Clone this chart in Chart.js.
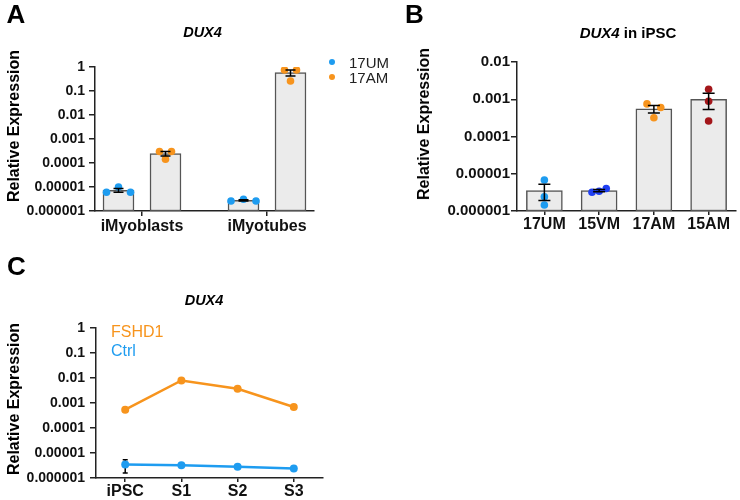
<!DOCTYPE html>
<html>
<head>
<meta charset="utf-8">
<script src="https://cdn.jsdelivr.net/npm/chart.js@4.4.1/dist/chart.umd.min.js"></script>
<style>
  body { margin: 0; background: #fff; font-family: "Liberation Sans", Arial, sans-serif; }
  #page { position: relative; width: 740px; height: 500px; overflow: hidden; }
  canvas { position: absolute; }
  .txt { position: absolute; line-height: 1; white-space: nowrap; transform: translate(-50%, -50%); font-weight: bold; color: #000; }
  .letter { font-size: 26px; }
  .title { font-size: 14.5px; }
  .ytitle { font-size: 16px; transform: translate(-50%, -50%) rotate(-90deg); }
  .leg { position: absolute; line-height: 1; white-space: nowrap; transform: translateY(-50%); }
  .dot { position: absolute; width: 6px; height: 6px; border-radius: 50%; transform: translate(-50%, -50%); }
</style>
</head>
<body>
<div id="page">
  <canvas id="chartA" width="370" height="250" style="left:0;top:0"></canvas>
  <canvas id="chartB" width="360" height="250" style="left:380px;top:0"></canvas>
  <canvas id="chartC" width="370" height="250" style="left:0;top:250px"></canvas>

  <div class="txt letter" style="left:16px;top:13.5px">A</div>
  <div class="txt letter" style="left:414.5px;top:13.5px">B</div>
  <div class="txt letter" style="left:16.5px;top:265.5px">C</div>

  <div class="txt title" style="left:202.5px;top:31.5px"><i>DUX4</i></div>
  <div class="txt title" style="left:628px;top:32px;font-size:15px"><i>DUX4</i> in iPSC</div>
  <div class="txt title" style="left:204px;top:300px"><i>DUX4</i></div>

  <div class="txt ytitle" style="left:14px;top:126px">Relative Expression</div>
  <div class="txt ytitle" style="left:423.5px;top:124px">Relative Expression</div>
  <div class="txt ytitle" style="left:14px;top:399px">Relative Expression</div>

  <div class="dot" style="left:331.7px;top:62px;background:#1e9cf0"></div>
  <div class="leg" style="left:349px;top:62px;font-size:15px;color:#222">17UM</div>
  <div class="dot" style="left:331.7px;top:77px;background:#f7941d"></div>
  <div class="leg" style="left:349px;top:77px;font-size:15px;color:#222">17AM</div>

  <div class="leg" style="left:111px;top:331.7px;font-size:16px;color:#f7941d">FSHD1</div>
  <div class="leg" style="left:111px;top:351px;font-size:16px;color:#1e9cf0">Ctrl</div>
</div>

<script>
// ---- data ----
const groupsA = ['iMyoblasts', 'iMyotubes'];
const um17A = [[6.0e-6, 1.0e-5, 6.0e-6], [2.6e-6, 3.1e-6, 2.6e-6]];
const am17A = [[3.0e-4, 1.45e-4, 3.0e-4], [0.75, 0.26, 0.75]];

const groupsB = ['17UM', '15VM', '17AM', '15AM'];
const repsB = [
  [6.8e-6, 2.4e-6, 1.45e-6],
  [3.2e-6, 3.4e-6, 4.0e-6],
  [7.5e-4, 3.2e-4, 6.0e-4],
  [1.85e-3, 8.8e-4, 2.6e-4]
];

const stagesC = ['iPSC', 'S1', 'S2', 'S3'];
const fshd1C = [5.4e-4, 8.0e-3, 3.7e-3, 6.9e-4];
const ctrlC = [3.5e-6, 3.2e-6, 2.8e-6, 2.4e-6];
const ctrlSemC = [1.9e-6, 0, 0, 0];

const yTicks6 = [1e-6, 1e-5, 1e-4, 1e-3, 1e-2, 1e-1, 1];
const yLabels6 = ['0.000001', '0.00001', '0.0001', '0.001', '0.01', '0.1', '1'];
const yTicks4 = [1e-6, 1e-5, 1e-4, 1e-3, 1e-2];
const yLabels4 = ['0.000001', '0.00001', '0.0001', '0.001', '0.01'];

// ---- style ----
const BLUE = '#1e9cf0';
const ORANGE = '#f7941d';
const ROYAL = '#1f3ff2';
const MAROON = '#a3161a';
const AXIS = '#222';
const FONT = '"Liberation Sans", Arial, sans-serif';
const colorsB = [BLUE, ROYAL, ORANGE, MAROON];

const mean = a => a.reduce((s, v) => s + v, 0) / a.length;
const sem = a => {
  const m = mean(a);
  const sd = Math.sqrt(a.reduce((s, v) => s + (v - m) ** 2, 0) / (a.length - 1));
  return sd / Math.sqrt(a.length);
};

function logAxis(ticks, labels, width, tickLen, pad, size) {
  return {
    type: 'logarithmic',
    min: ticks[0],
    max: ticks[ticks.length - 1],
    afterBuildTicks: s => { s.ticks = ticks.map(v => ({ value: v })); },
    afterFit: s => { s.width = width; },
    ticks: {
      autoSkip: false,
      padding: pad,
      color: '#111',
      font: { family: FONT, size: size, weight: 'bold' },
      callback: (v, i) => labels[i]
    },
    grid: { drawOnChartArea: false, drawTicks: true, tickLength: tickLen, color: AXIS, lineWidth: 1.5 },
    border: { display: true, color: AXIS, width: 1.5 }
  };
}

function catAxis(labels, min, max, height, tickLen, pad) {
  return {
    type: 'linear',
    min: min,
    max: max,
    offset: false,
    afterBuildTicks: s => { s.ticks = labels.map((_, i) => ({ value: i })); },
    afterFit: s => { s.height = height; },
    ticks: {
      autoSkip: false,
      maxRotation: 0,
      padding: pad,
      color: '#111',
      font: { family: FONT, size: 16, weight: 'bold', lineHeight: 1 },
      callback: (v, i) => labels[i]
    },
    grid: { offset: false, drawOnChartArea: false, drawTicks: true, tickLength: tickLen, color: AXIS, lineWidth: 1.5 },
    border: { display: true, color: AXIS, width: 1.5 }
  };
}

// draws mean +/- SEM whiskers through the chart's own scales
function errorBars(items, cap, layer) {
  const draw = chart => {
    const { ctx, scales: { x, y } } = chart;
    ctx.save();
    ctx.strokeStyle = '#000';
    ctx.lineWidth = 1.5;
    items.forEach(b => {
      if (!b.err) return;
      const px = x.getPixelForValue(b.x);
      const top = y.getPixelForValue(b.y + b.err);
      const bot = y.getPixelForValue(b.y - b.err);
      ctx.beginPath();
      ctx.moveTo(px, top); ctx.lineTo(px, bot);
      ctx.moveTo(px - cap / 2, top); ctx.lineTo(px + cap / 2, top);
      ctx.moveTo(px - cap / 2, bot); ctx.lineTo(px + cap / 2, bot);
      ctx.stroke();
    });
    ctx.restore();
  };
  return layer === 'before'
    ? { id: 'errBefore', beforeDatasetsDraw: draw }
    : { id: 'errAfter', afterDatasetsDraw: draw };
}

const barStyle = {
  type: 'bar',
  grouped: false,
  backgroundColor: '#ebebeb',
  borderColor: '#555',
  borderWidth: 1.5,
  borderSkipped: false,
  order: 2
};
const dotStyle = color => ({
  type: 'scatter',
  pointRadius: 3.8,
  pointBackgroundColor: color,
  pointBorderWidth: 0,
  order: 1
});

const baseOptions = {
  responsive: false,
  animation: false,
  events: [],
  plugins: { legend: { display: false }, tooltip: { enabled: false } }
};

// ---- Panel A ----
const barOffA = [-0.188, 0.188];
const jitterA = [[[-0.096, 0, 0.096], [-0.1, 0, 0.1]], [[-0.048, 0, 0.048], [-0.048, 0, 0.048]]];
const repsA = [um17A, am17A];
const errA = [];
const dsA = [];
repsA.forEach((series, s) => {
  const bars = series.map((reps, i) => ({ x: i + barOffA[s], y: mean(reps) }));
  series.forEach((reps, i) => errA.push({ x: i + barOffA[s], y: mean(reps), err: sem(reps) }));
  dsA.push({ ...barStyle, barThickness: 31, data: bars });
  dsA.push({
    ...dotStyle(s === 0 ? BLUE : ORANGE),
    data: series.flatMap((reps, i) => reps.map((v, k) => ({ x: i + barOffA[s] + jitterA[s][i][k], y: v })))
  });
});

new Chart(document.getElementById('chartA'), {
  type: 'bar',
  data: { datasets: dsA },
  options: {
    ...baseOptions,
    layout: { padding: { left: 0, top: 67, right: 56, bottom: 0 } },
    scales: {
      x: catAxis(groupsA, -0.376, 1.376, 39, 5, 3),
      y: logAxis(yTicks6, yLabels6, 95, 6, 4, 14)
    }
  },
  plugins: [errorBars(errA, 10, 'after')]
});

// ---- Panel B ----
const jitterB = [[0, 0, 0], [-0.13, 0, 0.13], [-0.126, 0, 0.126], [0, 0, 0]];
const errB = repsB.map((reps, i) => ({ x: i, y: mean(reps), err: sem(reps) }));
const dsB = [{ ...barStyle, barThickness: 36, data: repsB.map((reps, i) => ({ x: i, y: mean(reps) })) }];
repsB.forEach((reps, i) => {
  dsB.push({ ...dotStyle(colorsB[i]), data: reps.map((v, k) => ({ x: i + jitterB[i][k], y: v })) });
});

new Chart(document.getElementById('chartB'), {
  type: 'bar',
  data: { datasets: dsB },
  options: {
    ...baseOptions,
    layout: { padding: { left: 0, top: 62, right: 1, bottom: 0 } },
    scales: {
      x: catAxis(groupsB, -0.5, 3.5, 39, 4, 2),
      y: logAxis(yTicks4, yLabels4, 137, 6, 1, 15)
    }
  },
  plugins: [errorBars(errB, 12, 'after')]
});

// ---- Panel C ----
const lineStyle = color => ({
  borderColor: color,
  borderWidth: 2.5,
  pointRadius: 4,
  pointBackgroundColor: color,
  pointBorderWidth: 0,
  tension: 0
});
const errC = ctrlC.map((v, i) => ({ x: i, y: v, err: ctrlSemC[i] }));

new Chart(document.getElementById('chartC'), {
  type: 'line',
  data: {
    datasets: [
      { ...lineStyle(ORANGE), data: fshd1C.map((v, i) => ({ x: i, y: v })) },
      { ...lineStyle(BLUE), data: ctrlC.map((v, i) => ({ x: i, y: v })) }
    ]
  },
  options: {
    ...baseOptions,
    layout: { padding: { left: 0, top: 78, right: 47, bottom: 0 } },
    scales: {
      x: catAxis(stagesC, -0.52, 3.52, 22, 4, 2),
      y: logAxis(yTicks6, yLabels6, 96, 6, 5, 14)
    }
  },
  plugins: [errorBars(errC, 5, 'before')]
});
</script>
</body>
</html>
